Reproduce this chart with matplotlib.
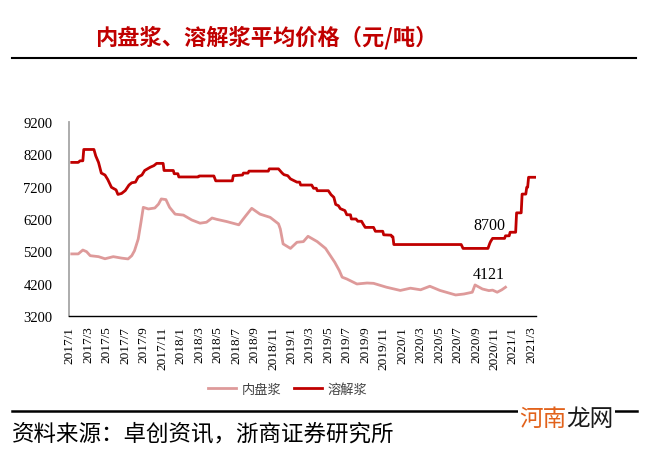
import matplotlib.pyplot as plt
from matplotlib.lines import Line2D

# months since 2017/1
pulp_t = [0.2, 0.9, 1.4, 1.8, 2.2, 3.1, 3.8, 4.7, 5.6, 6.3, 6.7, 7.0, 7.4, 7.7, 7.95,
          8.5, 9.2, 9.6, 9.9, 10.4, 10.8, 11.4, 12.3, 13.2, 14.1, 14.8, 15.4, 15.9,
          17.0, 18.3, 19.0, 19.7, 20.6, 21.7, 22.6, 22.8, 23.1, 23.9, 24.6, 25.3,
          25.8, 26.8, 27.7, 28.7, 29.2, 29.5, 30.0, 31.1, 32.2, 32.9, 34.3, 35.8,
          36.9, 38.0, 39.0, 40.1, 41.8, 42.7, 43.6, 43.9, 44.7, 45.4, 45.8, 46.3,
          46.8, 47.2]
pulp_v = [5120, 5120, 5240, 5190, 5065, 5035, 4970, 5035, 4990, 4965, 5065, 5220, 5580,
          6100, 6560, 6510, 6540, 6660, 6820, 6800, 6560, 6350, 6320, 6170, 6070, 6100,
          6230, 6190, 6120, 6020, 6280, 6530, 6350, 6250, 6050, 5890, 5430, 5290, 5480,
          5500, 5665, 5500, 5290, 4860, 4600, 4400, 4345, 4190, 4220, 4210, 4090, 3990,
          4060, 4010, 4120, 3990, 3850, 3880, 3935, 4160, 4035, 3985, 4000, 3935, 4010,
          4090]

diss_t = [0.2, 0.9, 1.1, 1.4, 1.5, 2.6, 2.8, 3.1, 3.4, 3.8, 4.1, 4.5, 5.0, 5.2, 5.6, 6.0,
          6.4, 6.7, 7.1, 7.4, 7.8, 8.1, 8.7, 9.1, 9.4, 10.1, 10.2, 11.2, 11.3, 11.7, 11.8,
          13.9, 14.0, 15.6, 15.8, 17.6, 17.7, 18.7, 18.8, 19.3, 19.4, 21.5, 21.6, 22.6,
          23.0, 23.2, 23.6, 23.9, 24.6, 24.9, 25.0, 26.2, 26.4, 26.7, 26.8, 28.0, 28.3,
          28.6, 28.8, 29.1, 29.3, 29.8, 30.0, 30.4, 30.5, 31.0, 31.2, 31.6, 31.8, 32.0,
          32.9, 33.1, 33.9, 34.0, 34.8, 34.9, 35.0, 35.1, 42.4, 42.6, 45.3, 45.5, 45.6,
          45.8, 47.1, 47.2, 47.6, 47.7, 48.3, 48.4, 48.9, 49.0, 49.4, 49.5, 49.6, 49.7,
          50.4]
diss_v = [7950, 7950, 8000, 8000, 8350, 8350, 8150, 7950, 7620, 7560, 7420, 7180, 7100,
          6960, 6990, 7080, 7250, 7320, 7340, 7500, 7560, 7700, 7800, 7850, 7920, 7920,
          7700, 7700, 7600, 7600, 7500, 7500, 7530, 7530, 7380, 7380, 7540, 7560, 7620,
          7620, 7680, 7680, 7750, 7750, 7620, 7570, 7540, 7440, 7340, 7340, 7250, 7250,
          7150, 7150, 7075, 7075, 6950, 6870, 6650, 6610, 6520, 6460, 6330, 6330, 6200,
          6200, 6130, 6130, 6030, 5940, 5940, 5820, 5820, 5710, 5700, 5650, 5650, 5410,
          5410, 5290, 5290, 5450, 5510, 5600, 5600, 5680, 5680, 5790, 5790, 6390, 6390,
          6970, 6970, 7180, 7180, 7490, 7490]

tick_m = list(range(0, 51, 2))
tick_labels = []
for m in tick_m:
    tick_labels.append(f"{2017 + m // 12}/{m % 12 + 1}")

yticks = [3200, 4200, 5200, 6200, 7200, 8200, 9200]

cjk = ['Noto Sans CJK SC', 'DejaVu Sans']
serif = 'Liberation Serif'

fig = plt.figure(figsize=(6.54, 4.52), dpi=100)
ax = fig.add_axes([0.1055, 0.2987, 0.714, 0.4292])

ax.plot(pulp_t, pulp_v, color='#DE9A9A', lw=2.0, label='内盘浆')
ax.plot(diss_t, diss_v, color='#C00000', lw=2.0, label='溶解浆')

ax.set_xlim(-0.1, 50.5)
ax.set_ylim(3200, 9200)
ax.set_yticks(yticks)
ax.set_yticklabels([str(v) for v in yticks], fontfamily=serif, fontsize=10.5)
ax.set_xticks(tick_m)
ax.set_xticklabels(tick_labels, rotation=90, fontfamily=serif, fontsize=9.5)
ax.tick_params(axis='y', length=0, pad=12)
ax.tick_params(axis='x', length=0, pad=7)

for s in ['top', 'right']:
    ax.spines[s].set_visible(False)
ax.spines['left'].set_color('#A6A6A6')
ax.spines['left'].set_linewidth(1.3)
ax.spines['bottom'].set_color('black')
ax.spines['bottom'].set_linewidth(1.0)

# labels as printed in the source
ax.text(45.4, 6020, '8700', fontfamily=serif, fontsize=11.5, ha='center', va='center')
ax.text(45.4, 4500, '4121', fontfamily=serif, fontsize=11.5, ha='center', va='center')

fig.legend(loc='center', bbox_to_anchor=(0.44, 0.137), ncol=2, frameon=False,
           prop={'family': cjk, 'size': 9.5}, handlelength=2.1, handletextpad=0.4,
           columnspacing=1.0, labelcolor='#404040')

fig.text(0.146, 0.916, '内盘浆、溶解浆平均价格（元/吨）', fontfamily=cjk, fontsize=16,
         fontweight='bold', color='#C00000', va='center', ha='left')
fig.add_artist(Line2D([0.018, 0.973], [0.8695, 0.8695], color='black', lw=1.5))

fig.add_artist(Line2D([0.018, 0.974], [0.0878, 0.0878], color='black', lw=1.8))
fig.text(0.018, 0.04, '资料来源：卓创资讯，浙商证券研究所', fontfamily=cjk, fontsize=16.2,
         va='center', ha='left', color='black')
fig.text(0.866, 0.071, '河南', fontfamily=cjk, fontsize=17, color='#E2621B',
         ha='right', va='center', bbox=dict(facecolor='white', edgecolor='none', pad=1))
fig.text(0.866, 0.071, '龙网', fontfamily=cjk, fontsize=17, color='#1A1A1A',
         ha='left', va='center', bbox=dict(facecolor='white', edgecolor='none', pad=1))

fig.savefig('out.png', dpi=100)
